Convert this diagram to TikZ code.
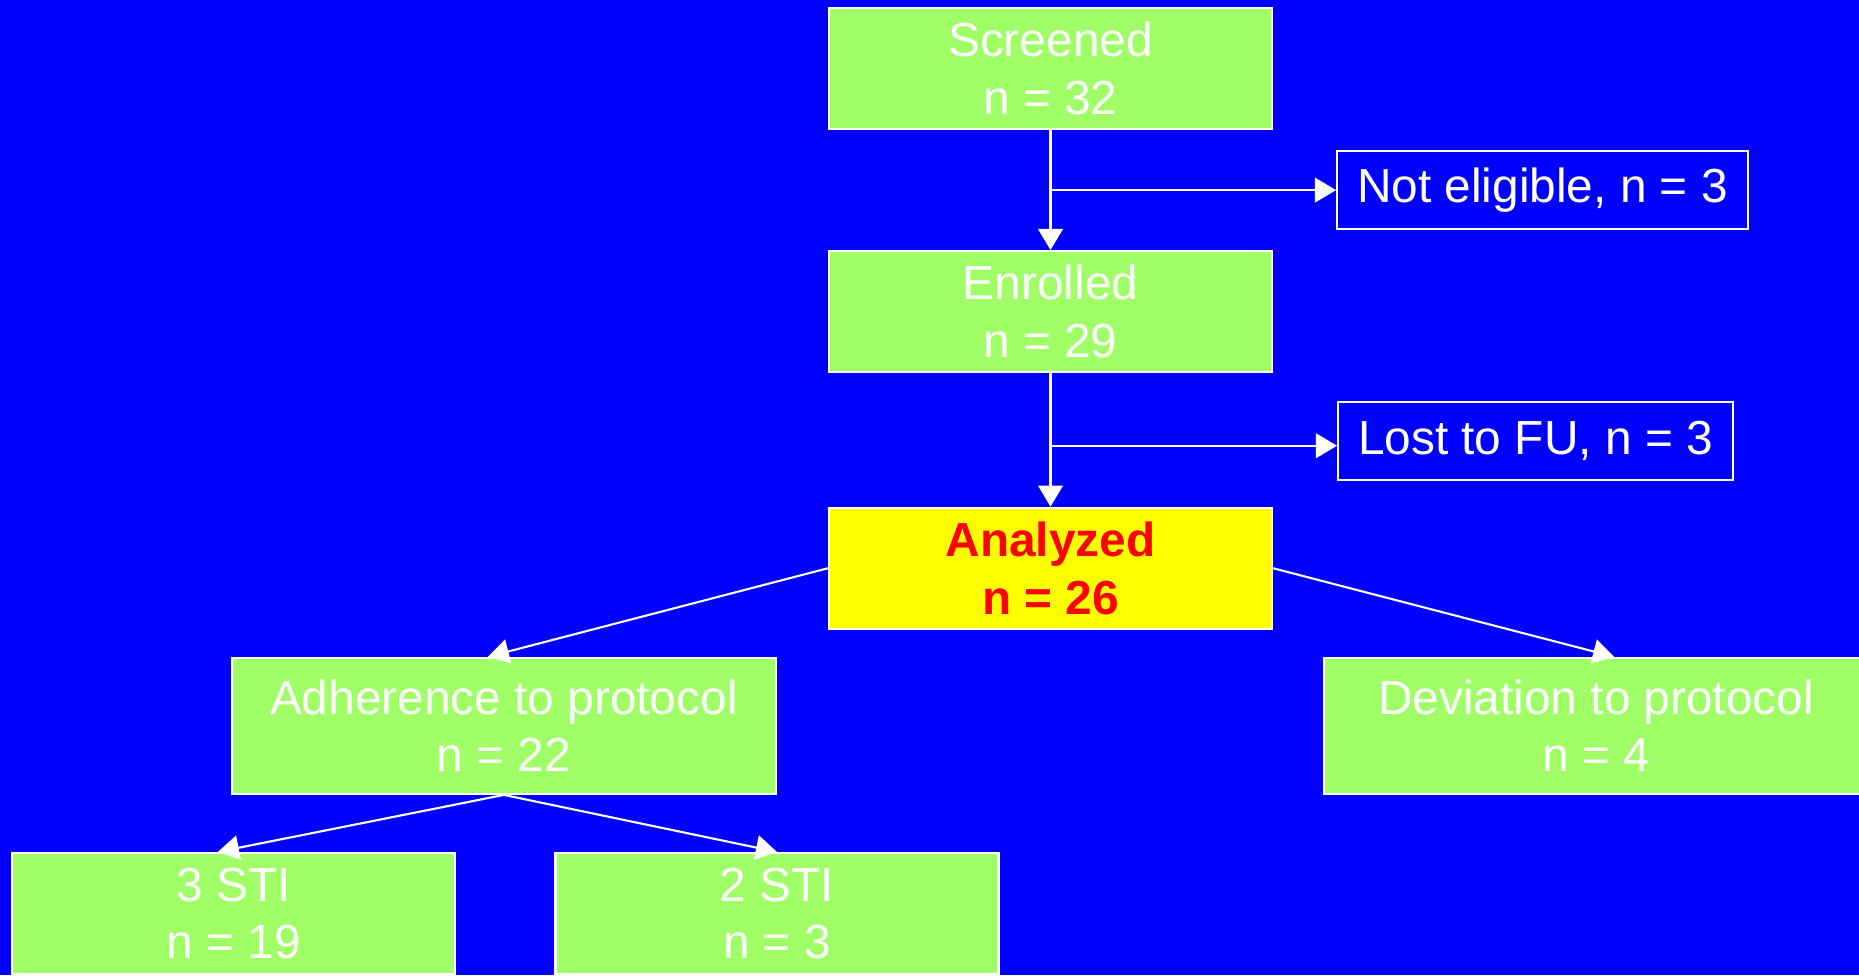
\documentclass[tikz,border=0pt]{standalone}
\usepackage{fontspec}
\setmainfont{Liberation Sans}
\usetikzlibrary{positioning,arrows.meta}

\definecolor{slideblue}{RGB}{0,0,255}
\definecolor{boxgreen}{RGB}{160,255,102}
\definecolor{keyyellow}{RGB}{255,255,0}
\definecolor{keyred}{RGB}{255,0,0}

\tikzset{
  box/.style={draw=white, line width=0.6pt, fill=boxgreen, text=white,
    minimum width=4.43cm, minimum height=1.21cm, inner sep=0pt, align=center,
    font=\fontsize{13.6}{16.4}\selectfont},
  widebox/.style={box, minimum width=5.44cm, minimum height=1.36cm},
  keybox/.style={box, fill=keyyellow, text=keyred, font=\fontsize{13.6}{16.4}\selectfont\bfseries},
  outbox/.style={box, fill=none, minimum width=0pt, minimum height=0.78cm, inner xsep=0.2cm},
  flow/.style={white, line width=0.6pt, -{Triangle[width=7pt,length=6pt]}}
}

\begin{document}
\begin{tikzpicture}
  \fill[slideblue] (0,0) rectangle (18.59,-9.75);
  \useasboundingbox (0,0) rectangle (18.59,-9.75);

  \node[box] (screened) at (10.505,-0.685) {Screened\\n = 32};
  \node[box] (enrolled) [below=1.2cm of screened] {Enrolled\\n = 29};
  \node[keybox] (analyzed) [below=1.335cm of enrolled] {Analyzed\\n = 26};
  \node[outbox] (noteligible) [below right=0.2cm and 0.63cm of screened] {Not eligible, n = 3};
  \node[outbox] (lostfu) [below right=0.275cm and 0.64cm of enrolled] {Lost to FU, n = 3};
  \node[widebox] (adherence) [below left=0.27cm and 0.51cm of analyzed] {Adherence to protocol\\n = 22};
  \node[widebox] (deviation) [below right=0.27cm and 0.5cm of analyzed] {Deviation to protocol\\n = 4};
  \node[box] (sti3) [below=0.57cm of adherence.south west, xshift=0.03cm] {3 STI\\n = 19};
  \node[box] (sti2) [below=0.57cm of adherence.south east] {2 STI\\n = 3};

  \coordinate (split1) at (screened.south |- noteligible.west);
  \coordinate (split2) at ([yshift=-0.05cm]enrolled.south |- lostfu.west);

  \path[flow]
  (screened) edge (enrolled)
  (split1) edge (noteligible)
  (enrolled) edge (analyzed)
  (split2) edge (split2 -| lostfu.west)
  (analyzed.west) edge ([xshift=-0.16cm]adherence.north)
  (analyzed.east) edge ([xshift=0.18cm]deviation.north)
  (adherence.south) edge ([xshift=-0.16cm]sti3.north)
  (adherence.south) edge (sti2.north);
\end{tikzpicture}
\end{document}
